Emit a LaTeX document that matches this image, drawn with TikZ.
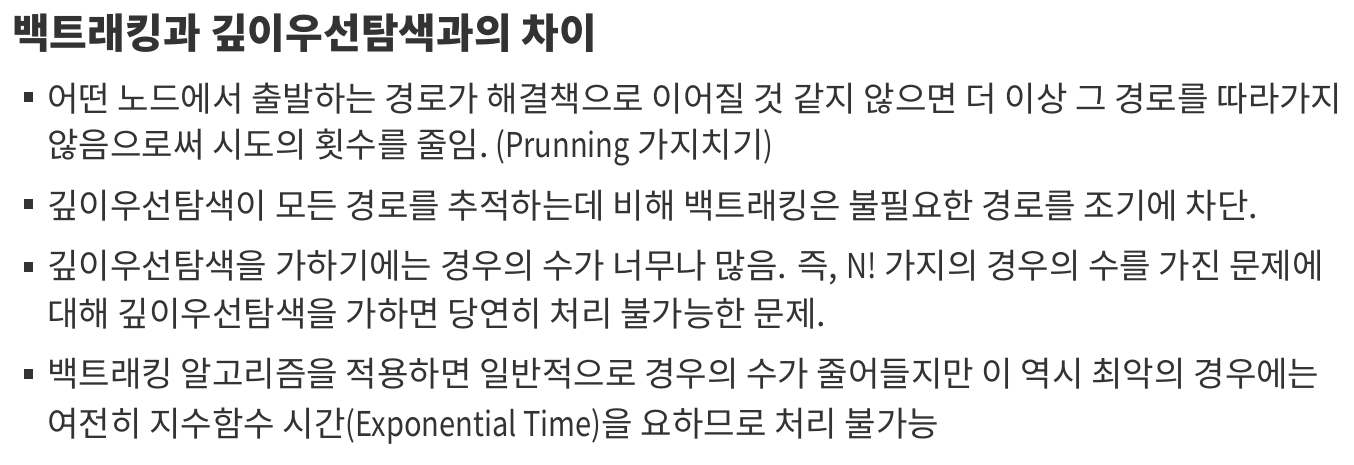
\documentclass[tikz,border=0pt]{standalone}
\usepackage{fontspec}
\setmainfont{Noto Sans CJK KR}
\definecolor{txtgray}{HTML}{333333}
\newcommand{\latn}[1]{\scalebox{0.85}[1]{#1}}
\begin{document}
\begin{tikzpicture}[x=1pt,y=1pt]
\tikzset{
  txt/.style={anchor=base west, inner sep=0pt, text=txtgray, font=\fontsize{34.2}{40}\selectfont},
  ttl/.style={txt, font=\fontsize{41}{48}\selectfont\bfseries},
  blt/.style={fill=txtgray},
}

\useasboundingbox (0,0) rectangle (1354,-464);

%% Title
\node[ttl] (title) at (12,-48) {백트래킹과 깊이우선탐색과의 차이};

%% Bullet 1
\fill[blt] (24,-92) rectangle (33,-102);
\node[txt] (l1) at (47,-111) {어떤 노드에서 출발하는 경로가 해결책으로 이어질 것 같지 않으면 더 이상 그 경로를 따라가지};
\node[txt] (l2) at (47,-157) {않음으로써 시도의 횟수를 줄임.\latn{ (Prunning} 가지치기\latn{)}};

%% Bullet 2
\fill[blt] (24,-199) rectangle (33,-209);
\node[txt] (l3) at (47,-218) {깊이우선탐색이 모든 경로를 추적하는데 비해 백트래킹은 불필요한 경로를 조기에 차단.};

%% Bullet 3
\fill[blt] (24,-262) rectangle (33,-272);
\node[txt] (l4) at (47,-278) {깊이우선탐색을 가하기에는 경우의 수가 너무나 많음. 즉, \latn{N!} 가지의 경우의 수를 가진 문제에};
\node[txt] (l5) at (47,-326) {대해 깊이우선탐색을 가하면 당연히 처리 불가능한 문제.};

%% Bullet 4
\fill[blt] (24,-369) rectangle (33,-379);
\node[txt] (l6) at (47,-386) {백트래킹 알고리즘을 적용하면 일반적으로 경우의 수가 줄어들지만 이 역시 최악의 경우에는};
\node[txt] (l7) at (47,-436) {여전히 지수함수 시간\latn{(Exponential Time)}을 요하므로 처리 불가능};
\end{tikzpicture}
\end{document}
